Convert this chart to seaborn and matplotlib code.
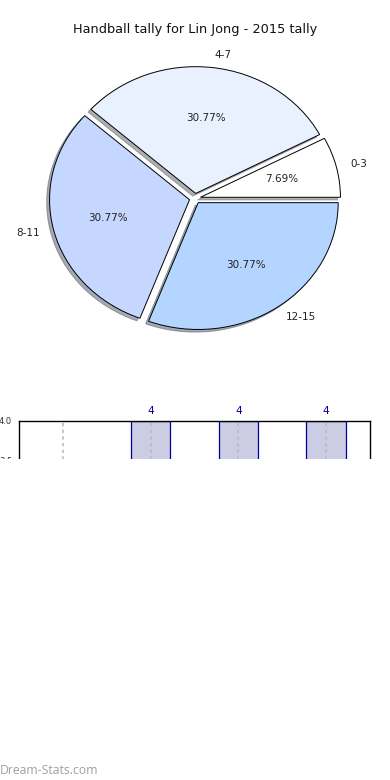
import matplotlib
matplotlib.use("Agg")
import matplotlib.pyplot as plt
import seaborn as sns
import pandas as pd
from matplotlib.patches import Rectangle

categories = ["0-3", "4-7", "8-11", "12-15"]
counts = [1, 4, 4, 4]
pie_colors = ["#ffffff", "#e9f1ff", "#c5d7ff", "#b4d5ff"]
title = "Handball tally for Lin Jong - 2015 tally"
watermark = "Dream-Stats.com"

sns.set_style("white")
plt.rcParams["font.family"] = ["DejaVu Sans"]

W, H = 390, 780
fig = plt.figure(figsize=(W / 100, H / 100), dpi=100)

def px_axes(left, top, width, height):
    return fig.add_axes([left / W, 1 - (top + height) / H, width / W, height / H])

# Pie chart
ax_pie = px_axes(20, 40, 350, 317)
wedges, texts, autotexts = ax_pie.pie(
    counts, labels=categories, colors=pie_colors, explode=[0.04] * 4,
    autopct="%1.2f%%", shadow={"ox": -0.015, "oy": -0.015, "shade": 0.6},
    startangle=0,
    wedgeprops=dict(edgecolor="black", linewidth=0.7),
    textprops=dict(fontsize=7.5, color="#222222"),
)
ax_pie.set_aspect("auto")
ax_pie.set_xlim(-1.25, 1.25)
ax_pie.set_ylim(-1.25, 1.25)
fig.text(0.5, 1 - 30 / H, title, ha="center", va="center", fontsize=9.3, color="#111111")

# Bar chart
ax_bar = px_axes(19, 421, 351, 312)
df = pd.DataFrame({"range": categories, "count": counts})
sns.barplot(data=df, x="range", y="count", ax=ax_bar, width=0.45,
            color="#ccccE4", edgecolor="#000099", linewidth=0.9, saturation=1)
ax_bar.set_xlim(-0.5, len(categories) - 0.5)
ax_bar.set_ylim(0, 4)
ax_bar.set_yticks([0, 0.5, 1, 1.5, 2, 2.5, 3, 3.5, 4])
ax_bar.set_yticklabels([f"{v:.1f}" for v in ax_bar.get_yticks()], fontsize=6, color="#333333")
ax_bar.tick_params(axis="y", length=3, color="#999999", pad=2)
ax_bar.set_xlabel("")
ax_bar.set_ylabel("")
for x in range(len(categories)):
    ax_bar.axvline(x, color="#bbbbbb", linestyle=(0, (2, 2)), linewidth=1.2, zorder=3)
for x, v in enumerate(counts):
    ax_bar.text(x, v + 0.07, str(v), ha="center", va="bottom", fontsize=7.5, color="#000099")
for s in ax_bar.spines.values():
    s.set_color("black")
    s.set_linewidth(1)

# cover lower part (cropped in reference)
fig.patches.append(Rectangle((0, 0), 1, 1 - 459 / H, transform=fig.transFigure,
                             facecolor="white", edgecolor="none", zorder=50))
fig.text(0, 1 - 770 / H, watermark, ha="left", va="center", fontsize=8.8,
         color="#a0a0a0", zorder=60, family=["Open Sans", "DejaVu Sans"])

fig.savefig("out.png", dpi=100)
